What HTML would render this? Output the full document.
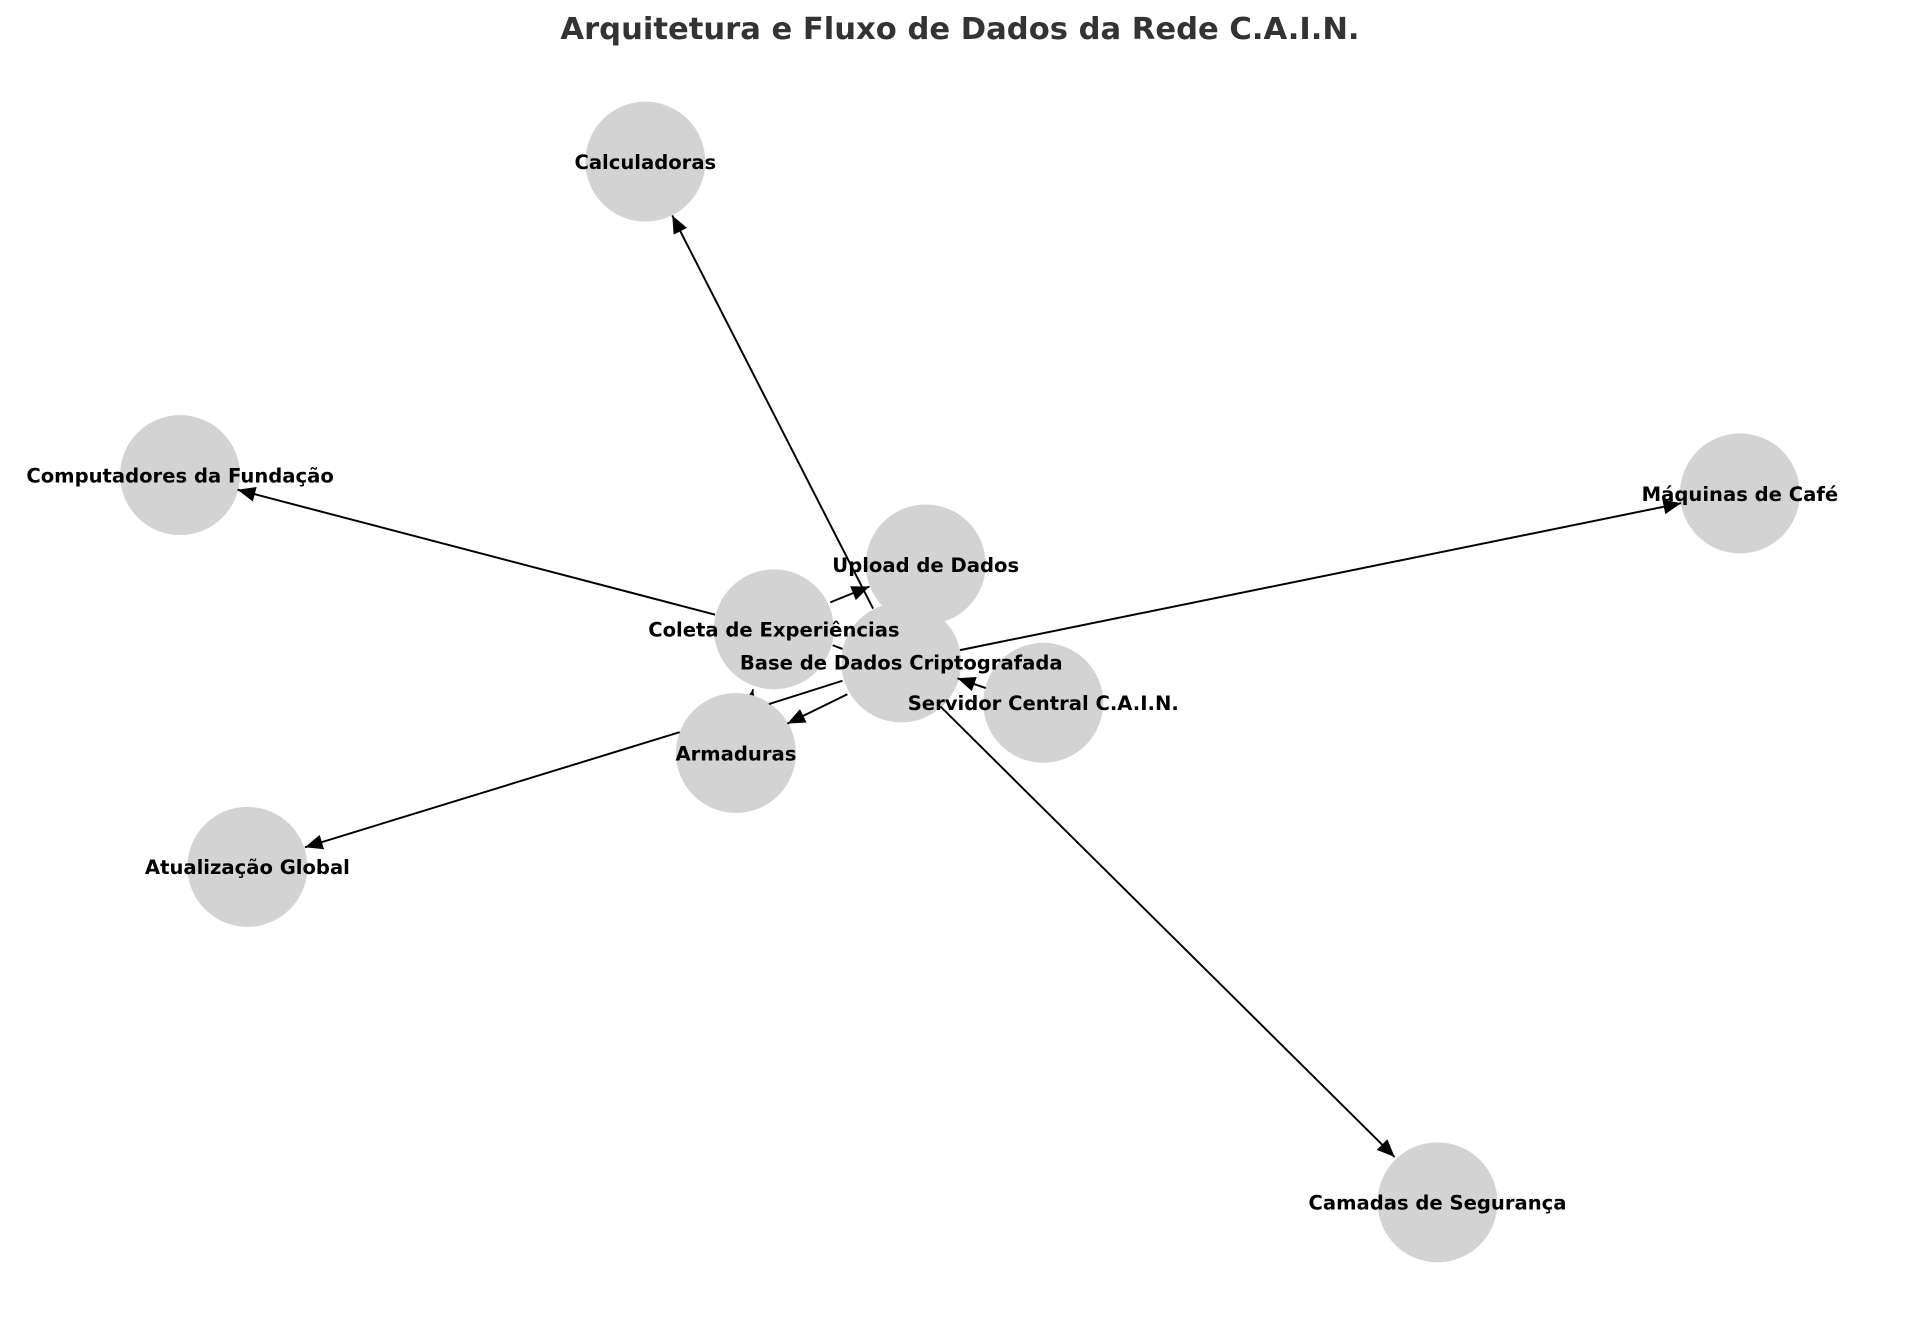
<!DOCTYPE html>
<html><head><meta charset="utf-8"><style>
html,body{margin:0;padding:0;background:#fff;}
svg{display:block;}
text{font-family:"DejaVu Sans","Liberation Sans",sans-serif;font-weight:bold;}
</style></head><body>
<svg width="1920" height="1326" viewBox="0 0 1568 1083" xmlns="http://www.w3.org/2000/svg">
<defs>
<marker id="a" markerUnits="userSpaceOnUse" markerWidth="20" markerHeight="20" refX="0" refY="0" viewBox="-16 -8 18 16" orient="auto">
<path d="M0,0 L-13,-5.5 L-13,5.5 z" fill="#000"/>
</marker>
</defs>
<rect width="1568" height="1083" fill="#fff"/>
<text x="784" y="32" font-size="25" fill="#333" text-anchor="middle">Arquitetura e Fluxo de Dados da Rede C.A.I.N.</text>
<line x1="608" y1="592" x2="615" y2="563" stroke="#000" stroke-width="1.6" marker-end="url(#a)"/>
<g fill="#d3d3d3">
<circle cx="527" cy="132" r="49"/>
<circle cx="147" cy="388" r="49"/>
<circle cx="1421" cy="403" r="49"/>
<circle cx="756" cy="461" r="49"/>
<circle cx="632" cy="514" r="49"/>
<circle cx="736" cy="541" r="49"/>
<circle cx="852" cy="574" r="49"/>
<circle cx="601" cy="615" r="49"/>
<circle cx="202" cy="708" r="49"/>
<circle cx="1174" cy="982" r="49"/>
</g>
<g stroke="#000" stroke-width="1.6" fill="none">
<line x1="713" y1="497" x2="549" y2="176" marker-end="url(#a)"/>
<line x1="584" y1="502" x2="194" y2="400" marker-end="url(#a)"/>
<line x1="784" y1="531" x2="1373" y2="411" marker-end="url(#a)"/>
<line x1="678" y1="492" x2="710" y2="479" marker-end="url(#a)"/>
<line x1="680" y1="527" x2="688" y2="530"/>
<line x1="805" y1="562" x2="782" y2="554" marker-end="url(#a)"/>
<line x1="692" y1="567" x2="643" y2="591" marker-end="url(#a)"/>
<line x1="688" y1="556" x2="628" y2="575"/>
<line x1="555" y1="598" x2="249" y2="692" marker-end="url(#a)"/>
<line x1="768" y1="577" x2="1139" y2="945" marker-end="url(#a)"/>
</g>
<g font-size="16" fill="#000" text-anchor="middle">
<text x="527" y="138">Calculadoras</text>
<text x="147" y="394">Computadores da Fundação</text>
<text x="1421" y="409">Máquinas de Café</text>
<text x="756" y="467">Upload de Dados</text>
<text x="632" y="520">Coleta de Experiências</text>
<text x="736" y="547">Base de Dados Criptografada</text>
<text x="852" y="580">Servidor Central C.A.I.N.</text>
<text x="601" y="621">Armaduras</text>
<text x="202" y="714">Atualização Global</text>
<text x="1174" y="988">Camadas de Segurança</text>
</g>
</svg>
</body></html>
